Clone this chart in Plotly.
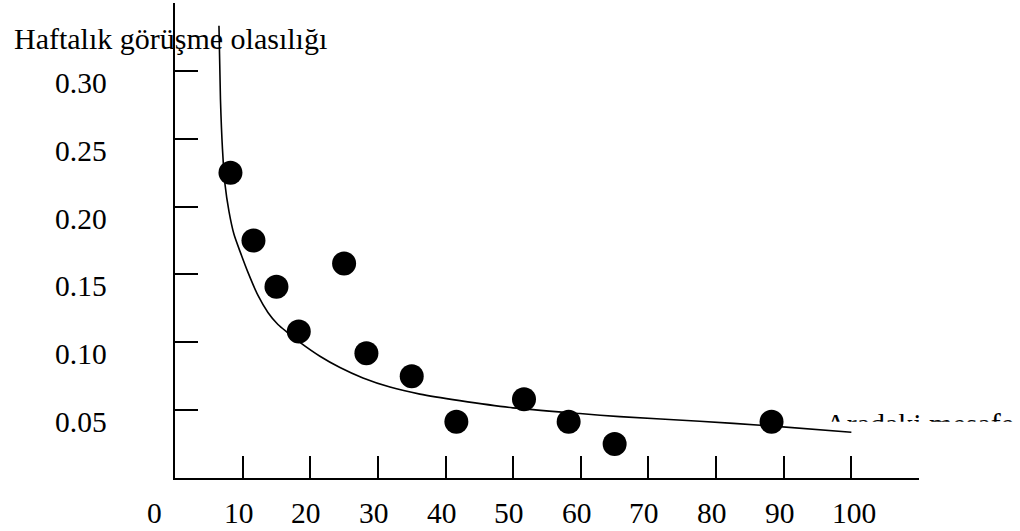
import plotly.graph_objects as go

# ---- data ----
dist = [8.2, 11.6, 15.0, 18.3, 25.0, 28.3, 35.0, 41.6, 51.6, 58.2, 65.0, 88.2]
prob = [0.225, 0.175, 0.141, 0.108, 0.158, 0.092, 0.075, 0.0415, 0.058, 0.0415, 0.025, 0.0415]

curve_x = [6.50, 6.72, 7.02, 7.39, 7.98, 8.72, 9.61, 10.79, 12.27, 13.74, 15.22, 16.70,
           18.47, 21.43, 24.39, 27.79, 31.78, 36.21, 42.12, 49.95, 59.85, 65.76, 77.58,
           87.48, 100.0]
curve_y = [0.3333, 0.2792, 0.2423, 0.2165, 0.1965, 0.1796, 0.1670, 0.1515, 0.1345, 0.1220,
           0.1131, 0.1069, 0.0999, 0.0897, 0.0814, 0.0737, 0.0670, 0.0618, 0.0570, 0.0517,
           0.0475, 0.0452, 0.0418, 0.0386, 0.0337]

x_ticks = [10, 20, 30, 40, 50, 60, 70, 80, 90, 100]
x_labels = ["0", "10", "20", "30", "40", "50", "60", "70", "80", "90", "100"]
x_label_vals = [0, 10, 20, 30, 40, 50, 60, 70, 80, 90, 100]
y_ticks = [0.05, 0.10, 0.15, 0.20, 0.25, 0.30]
y_labels = ["0.05", "0.10", "0.15", "0.20", "0.25", "0.30"]

y_title = "Haftalık görüşme olasılığı"
x_title = "Aradaki mesafe"

W, H = 1020, 531
FONT = "Liberation Serif"
FS_NUM = 29.5
FS_TXT = 30

def px_x(p):
    return p / W

def px_y(p):
    return 1 - p / H

fig = go.Figure()

fig.add_trace(go.Scatter(
    x=curve_x, y=curve_y, mode="lines",
    line=dict(color="black", width=1.6, shape="spline", smoothing=0.7),
    xaxis="x", yaxis="y", hoverinfo="skip", showlegend=False))

fig.add_trace(go.Scatter(
    x=dist, y=prob, mode="markers", marker=dict(color="black", size=24),
    xaxis="x", yaxis="y", showlegend=False))

# clipped axis caption (only the top part is visible in the reference)
CLIP_TOP, CLIP_BOTTOM, CLIP_LEFT = 380, 421.7, 800
fig.add_trace(go.Scatter(
    x=[(825 - CLIP_LEFT) / (W - CLIP_LEFT)],
    y=[(CLIP_BOTTOM - 426) / (CLIP_BOTTOM - CLIP_TOP)],
    mode="text", text=[x_title], textposition="middle right",
    textfont=dict(family=FONT, size=FS_TXT, color="black"),
    xaxis="x2", yaxis="y2", cliponaxis=True, hoverinfo="skip", showlegend=False))

axis_common = dict(showgrid=False, zeroline=False, showticklabels=False,
                   linecolor="black", linewidth=2, ticks="inside",
                   tickcolor="black", tickwidth=2)

fig.update_layout(
    width=W, height=H,
    margin=dict(l=0, r=0, t=0, b=0),
    paper_bgcolor="white", plot_bgcolor="white",
    xaxis=dict(domain=[px_x(175), px_x(919)], range=[0, 110], showline=True,
               tickvals=x_ticks, ticklen=22, anchor="y", **axis_common),
    yaxis=dict(domain=[px_y(478), px_y(3)], range=[0, 0.35], showline=True,
               tickvals=y_ticks, ticklen=23, anchor="x", **axis_common),
    xaxis2=dict(domain=[px_x(CLIP_LEFT), 1.0], range=[0, 1], visible=False, anchor="y2"),
    yaxis2=dict(domain=[px_y(CLIP_BOTTOM), px_y(CLIP_TOP)], range=[0, 1], visible=False, anchor="x2"),
)

annotations = []
for v, t in zip(x_label_vals, x_labels):
    shift = -4
    if v == 0:
        shift = -21
    elif v == 100:
        shift = 3
    annotations.append(dict(x=v, xref="x", y=px_y(512.5), yref="paper", text=t,
                            showarrow=False, xanchor="center", yanchor="middle",
                            xshift=shift, font=dict(family=FONT, size=FS_NUM, color="black")))
for v, t in zip(y_ticks, y_labels):
    annotations.append(dict(x=px_x(109), xref="paper", y=v, yref="y", text=t,
                            showarrow=False, xanchor="right", yanchor="middle",
                            yshift=-12, font=dict(family=FONT, size=FS_NUM, color="black")))
annotations.append(dict(x=px_x(12), xref="paper", y=px_y(39), yref="paper", text=y_title,
                        showarrow=False, xanchor="left", yanchor="middle",
                        font=dict(family=FONT, size=FS_TXT, color="black")))
fig.update_layout(annotations=annotations)

fig.write_html("out.html", config={"displayModeBar": False},
               post_script="document.body.style.margin='0';document.body.style.overflow='hidden';")
